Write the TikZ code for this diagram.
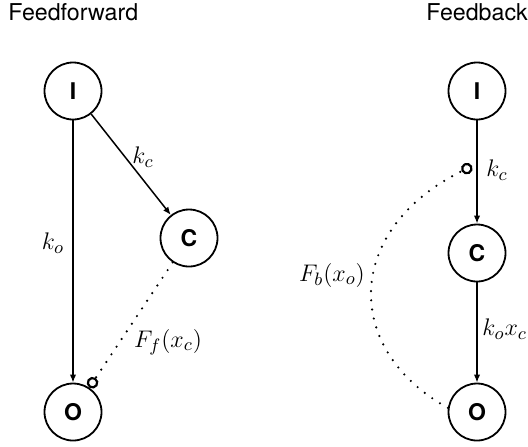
\documentclass[tikz,border=0pt]{standalone}
\usepackage{fontspec}
\setsansfont{TeX Gyre Heros}
\usetikzlibrary{arrows.meta}

\tikzset{
  unit/.style={draw, circle, line width=0.9pt, minimum size=28.5pt, inner sep=0pt,
    font=\sffamily\bfseries\fontsize{11.5}{13}\selectfont},
  flow/.style={line width=0.75pt, -{Latex[length=4pt,width=3.2pt]}},
  regline/.style={line width=1.2pt, dash pattern=on 0pt off 4.6pt, line cap=round,
    -{Circle[open,length=5.8pt,width=5.8pt,line width=1.1pt]}},
  gain/.style={font=\fontsize{12.8}{15}\selectfont, inner sep=0pt},
  title/.style={font=\sffamily\fontsize{11.6}{14}\selectfont, inner sep=0pt, anchor=base west}
}

\begin{document}
\begin{tikzpicture}[x=0.5pt,y=-0.5pt]
  \clip (0,0) rectangle (528,446);
  % feedforward
  \node[title] (fftitle) at (8,20) {Feedforward};
  \node[unit] (ffI) at (73,91) {I};
  \node[unit] (ffC) at (189,238) {C};
  \node[unit] (ffO) at (73,412) {O};
  \draw[flow] (ffI) -- (ffO);
  \draw[flow] (ffI) -- (ffC);
  \draw[regline] (ffC) -- (ffO);
  \node[gain] (ffkc) at (143,157) {$k_c$};
  \node[gain] (ffko) at (53,243) {$k_o$};
  \node[gain] (ffF) at (168,342) {$F_f(x_c)$};
  % feedback
  \node[title] (fbtitle) at (426,20) {Feedback};
  \node[unit] (fbI) at (477,91) {I};
  \node[unit] (fbC) at (477,253) {C};
  \node[unit] (fbO) at (477,412) {O};
  \coordinate (fbtap) at (472,166);
  \draw[flow] (fbI) -- (fbC);
  \draw[flow] (fbC) -- (fbO);
  \draw[regline] (fbO.172) .. controls (343,350) and (343,230) .. (fbtap);
  \node[gain] (fbkc) at (497,170) {$k_c$};
  \node[gain, anchor=west] (fbko) at (482,329) {$k_ox_c$};
  \node[gain] (fbF) at (332,275) {$F_b(x_o)$};
\end{tikzpicture}
\end{document}
